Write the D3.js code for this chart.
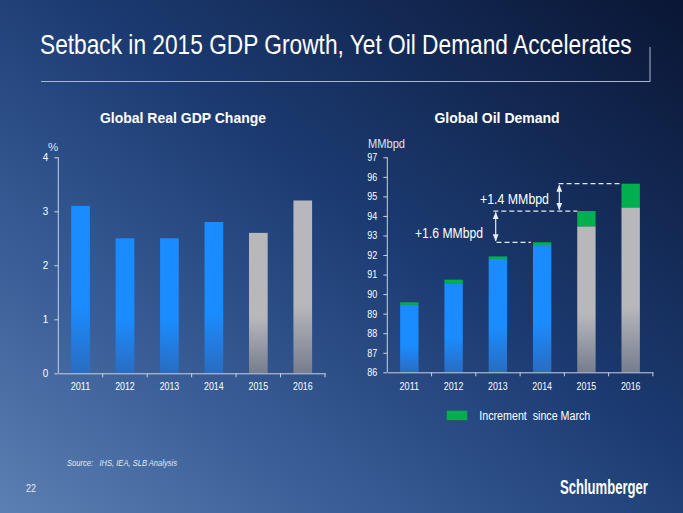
<!DOCTYPE html>
<html><head><meta charset="utf-8">
<script src="https://cdn.jsdelivr.net/npm/d3@7"></script>
<style>html,body{margin:0;padding:0;background:#0b1a3a;}svg{display:block;}</style>
</head><body>
<script>
const years = ["2011","2012","2013","2014","2015","2016"];
const gdpGrowth = [3.1, 2.5, 2.5, 2.8, 2.6, 3.2];
const isForecast = [false, false, false, false, true, true];
const gdpTicks = [0, 1, 2, 3, 4];
const oilDemandBase = [89.45, 90.52, 91.80, 92.46, 93.47, 94.44];
const oilIncrement = [0.13, 0.22, 0.13, 0.19, 0.78, 1.21];
const oilTicks = [86,87,88,89,90,91,92,93,94,95,96,97];
const annotations = [
  {from: 3, to: 4, label: "+1.6 MMbpd"},
  {from: 4, to: 5, label: "+1.4 MMbpd"}
];

const W = 683, H = 513;
const svg = d3.select("body").append("svg").attr("width", W).attr("height", H);
const defs = svg.append("defs");
const bg = defs.append("linearGradient").attr("id","bg").attr("x1","0").attr("y1","1").attr("x2","1").attr("y2","0");
bg.append("stop").attr("offset","0").attr("stop-color","#5c80b2");
bg.append("stop").attr("offset","0.25").attr("stop-color","#3a5f98");
bg.append("stop").attr("offset","0.55").attr("stop-color","#1c3b72");
bg.append("stop").attr("offset","1").attr("stop-color","#0a1634");
svg.append("rect").attr("width",W).attr("height",H).attr("fill","url(#bg)");

function grad(id, top, bottom) {
  const g = defs.append("linearGradient").attr("id",id).attr("gradientUnits","objectBoundingBox")
    .attr("x1","0").attr("y1","0").attr("x2","0").attr("y2","1");
  g.append("stop").attr("offset","0").attr("stop-color",top);
  g.append("stop").attr("offset","0.6").attr("stop-color",top);
  g.append("stop").attr("offset","1").attr("stop-color",bottom);
}
grad("blueL", "#1a8cff", "#2a6cc0");
grad("grayL", "#b8b8bc", "#777d8e");
grad("blueR", "#1a8cff", "#2a6cc0");
grad("grayR", "#b8b8bc", "#777d8e");

const font = "'Liberation Sans', Arial, sans-serif";
function narrow(sel, perChar) {
  sel.each(function() {
    const n = this.textContent.length;
    d3.select(this).attr("textLength", n * perChar).attr("lengthAdjust", "spacingAndGlyphs");
  });
}
// squeeze a text horizontally to a target width with a transform
function squeezed(x, y, width, anchorStart, build) {
  const g = svg.append("g");
  const t = build(g.append("text").attr("x", 0).attr("y", 0));
  const natural = t.node().getComputedTextLength();
  const s = Math.min(1, width / natural);
  g.attr("transform", `translate(${x},${y}) scale(${s},1)`);
  return t;
}

// Title
squeezed(40, 54, 592, true, t => t.attr("fill","#ffffff").attr("font-family",font).attr("font-size",28)
  .text("Setback in 2015 GDP Growth, Yet Oil Demand Accelerates"));
svg.append("line").attr("x1",41).attr("x2",650).attr("y1",81.5).attr("y2",81.5).attr("stroke","#a9b6cf").attr("stroke-width",1);
svg.append("line").attr("x1",650).attr("x2",650).attr("y1",47).attr("y2",82).attr("stroke","#a9b6cf").attr("stroke-width",1);

const axisColor = "#c9d1e2";
function styleAxis(g) {
  g.selectAll("path, line").attr("stroke", axisColor);
  g.selectAll("text").attr("fill","#ffffff").attr("font-family",font).attr("font-size",11.5);
}

// ---------- Left chart ----------
const L = {x0: 58.3, x1: 325, y0: 373.3, y1: 157.3};
const xL = d3.scaleBand().domain(years).range([L.x0, L.x1]).paddingInner(0.58).paddingOuter(0.29);
const yL = d3.scaleLinear().domain([0, 4]).range([L.y0, L.y1]);

svg.append("text").attr("x",183).attr("y",123).attr("text-anchor","middle")
  .attr("fill","#ffffff").attr("font-family",font).attr("font-weight","bold").attr("font-size",14)
  .text("Global Real GDP Change");

svg.selectAll(".barL").data(years).enter().append("rect")
  .attr("x", d => xL(d)).attr("width", xL.bandwidth())
  .attr("y", (d,i) => yL(gdpGrowth[i])).attr("height", (d,i) => yL(0) - yL(gdpGrowth[i]))
  .attr("fill", (d,i) => isForecast[i] ? "url(#grayL)" : "url(#blueL)");

const yAxL = svg.append("g").attr("transform",`translate(${L.x0},0)`)
  .call(d3.axisLeft(yL).tickValues(gdpTicks).tickFormat(d3.format("d")).tickSize(4).tickPadding(6));
styleAxis(yAxL);
narrow(yAxL.selectAll("text"), 5.5);
yAxL.select(".domain").attr("d", `M-0,${L.y1}V${L.y0}`);
const xAxL = svg.append("g").attr("transform",`translate(0,${L.y0})`)
  .call(d3.axisBottom(xL).tickSize(0).tickPadding(9));
styleAxis(xAxL);
xAxL.selectAll(".tick text").attr("dy","0.71em");
narrow(xAxL.selectAll(".tick text"), 4.9);
xAxL.selectAll(".bnd").data(years).enter().append("line").attr("class","bnd")
  .attr("x1", d => xL(d) - xL.step()*xL.paddingOuter() + xL.step()).attr("x2", d => xL(d) - xL.step()*xL.paddingOuter() + xL.step())
  .attr("y1",0).attr("y2",4).attr("stroke",axisColor);
svg.append("text").attr("x",53).attr("y",151).attr("text-anchor","middle").attr("fill","#dfe5f0")
  .attr("font-family",font).attr("font-size",11.5).text("%");

// ---------- Right chart ----------
const R = {x0: 387.3, x1: 652.7, y0: 372.3, y1: 157.3};
const xR = d3.scaleBand().domain(years).range([R.x0, R.x1]).paddingInner(0.585).paddingOuter(0.29);
const yR = d3.scaleLinear().domain([86, 97]).range([R.y0, R.y1]);

svg.append("text").attr("x",497).attr("y",123).attr("text-anchor","middle")
  .attr("fill","#ffffff").attr("font-family",font).attr("font-weight","bold").attr("font-size",14)
  .text("Global Oil Demand");

svg.selectAll(".barR").data(years).enter().append("rect")
  .attr("x", d => xR(d)).attr("width", xR.bandwidth())
  .attr("y", (d,i) => yR(oilDemandBase[i])).attr("height", (d,i) => yR(86) - yR(oilDemandBase[i]))
  .attr("fill", (d,i) => isForecast[i] ? "url(#grayR)" : "url(#blueR)");
svg.selectAll(".incR").data(years).enter().append("rect")
  .attr("x", d => xR(d)).attr("width", xR.bandwidth())
  .attr("y", (d,i) => yR(oilDemandBase[i] + oilIncrement[i])).attr("height", (d,i) => yR(oilDemandBase[i]) - yR(oilDemandBase[i] + oilIncrement[i]))
  .attr("fill", "#00b04f");

const yAxR = svg.append("g").attr("transform",`translate(${R.x0},0)`)
  .call(d3.axisLeft(yR).tickValues(oilTicks).tickFormat(d3.format("d")).tickSize(4).tickPadding(6));
styleAxis(yAxR);
yAxR.selectAll("text").attr("font-size",10.5);
narrow(yAxR.selectAll("text"), 5);
yAxR.select(".domain").attr("d", `M-0,${R.y1}V${R.y0}`);
const xAxR = svg.append("g").attr("transform",`translate(0,${R.y0})`)
  .call(d3.axisBottom(xR).tickSize(0).tickPadding(10));
styleAxis(xAxR);
xAxR.selectAll(".tick text").attr("dy","0.71em");
narrow(xAxR.selectAll(".tick text"), 4.9);
xAxR.selectAll(".bnd").data(years).enter().append("line").attr("class","bnd")
  .attr("x1", d => xR(d) - xR.step()*xR.paddingOuter() + xR.step()).attr("x2", d => xR(d) - xR.step()*xR.paddingOuter() + xR.step())
  .attr("y1",0).attr("y2",4).attr("stroke",axisColor);
svg.append("text").attr("x",368).attr("y",148).attr("fill","#dfe5f0")
  .attr("font-family",font).attr("font-size",12).attr("textLength",37).attr("lengthAdjust","spacingAndGlyphs").text("MMbpd");

// Annotations
defs.append("marker").attr("id","ah").attr("viewBox","0 0 10 10").attr("refX",9).attr("refY",5)
  .attr("markerWidth",6).attr("markerHeight",6).attr("orient","auto-start-reverse")
  .append("path").attr("d","M0,1L10,5L0,9Z").attr("fill","#e8ecf4");
const total = i => oilDemandBase[i] + oilIncrement[i];
const annLayout = [
  {upFromX: 493.3, arrowX: 495.7, labelX: 449, labelY: 238, labelW: 68},
  {upFromX: 558.5, arrowX: 559.3, labelX: 514.5, labelY: 204, labelW: 69}
];
annotations.forEach((a, k) => {
  const lay = annLayout[k];
  const yLow = yR(total(a.from)), yHigh = yR(total(a.to));
  if (k === 0) {
    svg.append("line").attr("x1", 496.5).attr("x2", xR(years[a.from]) - 2)
      .attr("y1", yLow).attr("y2", yLow).attr("stroke","#e2e7f0").attr("stroke-dasharray","5,3").attr("stroke-width",1.2);
  }
  svg.append("line").attr("x1", lay.upFromX).attr("x2", xR(years[a.to]))
    .attr("y1", yHigh).attr("y2", yHigh).attr("stroke","#e2e7f0").attr("stroke-dasharray","5,3").attr("stroke-width",1.2);
  svg.append("line").attr("x1", lay.arrowX).attr("x2", lay.arrowX)
    .attr("y1", yLow - 1.5).attr("y2", yHigh + 1.5).attr("stroke","#e8ecf4").attr("stroke-width",1.2)
    .attr("marker-start","url(#ah)").attr("marker-end","url(#ah)");
  svg.append("text").attr("x", lay.labelX).attr("y", lay.labelY).attr("text-anchor","middle")
    .attr("fill","#ffffff").attr("font-family",font).attr("font-size",14)
    .attr("textLength", lay.labelW).attr("lengthAdjust","spacingAndGlyphs")
    .text(a.label);
});

// Legend
svg.append("rect").attr("x",446.7).attr("y",410.7).attr("width",20.6).attr("height",9.5).attr("fill","#00b04f");
svg.append("text").attr("x",479.3).attr("y",419.5).attr("fill","#ffffff")
  .attr("font-family",font).attr("font-size",13).attr("xml:space","preserve")
  .attr("textLength",111).attr("lengthAdjust","spacingAndGlyphs").text("Increment  since March");

// Footer
svg.append("text").attr("x",67).attr("y",466).attr("fill","#e4e9f2").attr("font-style","italic")
  .attr("font-family",font).attr("font-size",9).attr("xml:space","preserve")
  .attr("textLength",110).attr("lengthAdjust","spacingAndGlyphs").text("Source:   IHS, IEA, SLB Analysis");
svg.append("text").attr("x",26).attr("y",492).attr("fill","#e4e9f2")
  .attr("font-family",font).attr("font-size",11).attr("textLength",10).attr("lengthAdjust","spacingAndGlyphs").text("22");
squeezed(560, 494, 88, true, t => t.attr("fill","#ffffff").attr("font-weight","bold")
  .attr("font-family",font).attr("font-size",21).text("Schlumberger"));
</script>
</body></html>
